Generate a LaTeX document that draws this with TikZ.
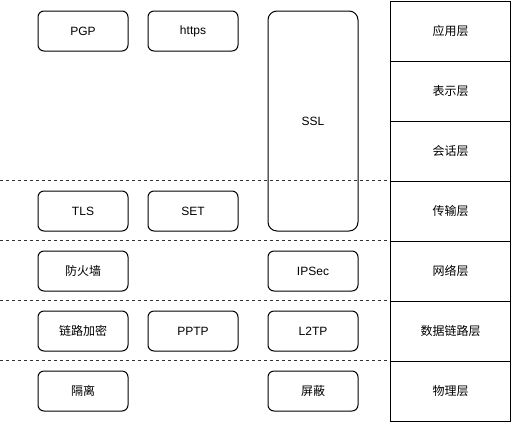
\documentclass[tikz,border=0pt]{standalone}
\usepackage{fontspec}
\setmainfont{Liberation Sans}
\newfontfamily\cjk{Noto Sans CJK SC}
\begin{document}
\begin{tikzpicture}[x=1pt,y=-1pt,
  box/.style={draw=black,line width=1pt,rounded corners=6pt,minimum width=90pt,minimum height=40pt,inner sep=0pt,font=\fontsize{12}{14}\selectfont,anchor=north west},
  layer/.style={draw=black,line width=1pt,minimum width=120pt,minimum height=60pt,inner sep=0pt,font=\cjk\fontsize{12}{14}\selectfont,anchor=north west},
  sep/.style={draw=black!80,line width=0.8pt,dash pattern=on 3pt off 3pt}]
\useasboundingbox (0,0) rectangle (511,421);
% layers
\node[layer] (l1) at (390,0.5) {应用层};
\node[layer] (l2) at (390,60.5) {表示层};
\node[layer] (l3) at (390,120.5) {会话层};
\node[layer] (l4) at (390,180.5) {传输层};
\node[layer] (l5) at (390,240.5) {网络层};
\node[layer] (l6) at (390,300.5) {数据链路层};
\node[layer] (l7) at (390,360.5) {物理层};
% dashed separators
\foreach \n/\y in {a/180.5,b/240.5,c/300.5,d/360.5}{
  \coordinate (s\n) at (0,\y);
}
\draw[sep] (sa) -- (l4.north west);
\draw[sep] (sb) -- (l5.north west);
\draw[sep] (sc) -- (l6.north west);
\draw[sep] (sd) -- (l7.north west);
% boxes
\node[box] (pgp) at (37.5,10.5) {PGP};
\node[box] (https) at (147.5,10.5) {https};
\node[box,minimum height=220pt,rounded corners=9pt] (ssl) at (267.5,10.5) {SSL};
\node[box] (tls) at (37.5,190.5) {TLS};
\node[box] (set) at (147.5,190.5) {SET};
\node[box,font=\cjk\fontsize{12}{14}\selectfont] (fw) at (37.5,250.5) {防火墙};
\node[box] (ipsec) at (267.5,250.5) {IPSec};
\node[box,font=\cjk\fontsize{12}{14}\selectfont] (lj) at (37.5,310.5) {链路加密};
\node[box] (pptp) at (147.5,310.5) {PPTP};
\node[box] (l2tp) at (267.5,310.5) {L2TP};
\node[box,font=\cjk\fontsize{12}{14}\selectfont] (gl) at (37.5,370.5) {隔离};
\node[box,font=\cjk\fontsize{12}{14}\selectfont] (pb) at (267.5,370.5) {屏蔽};
\end{tikzpicture}
\end{document}
